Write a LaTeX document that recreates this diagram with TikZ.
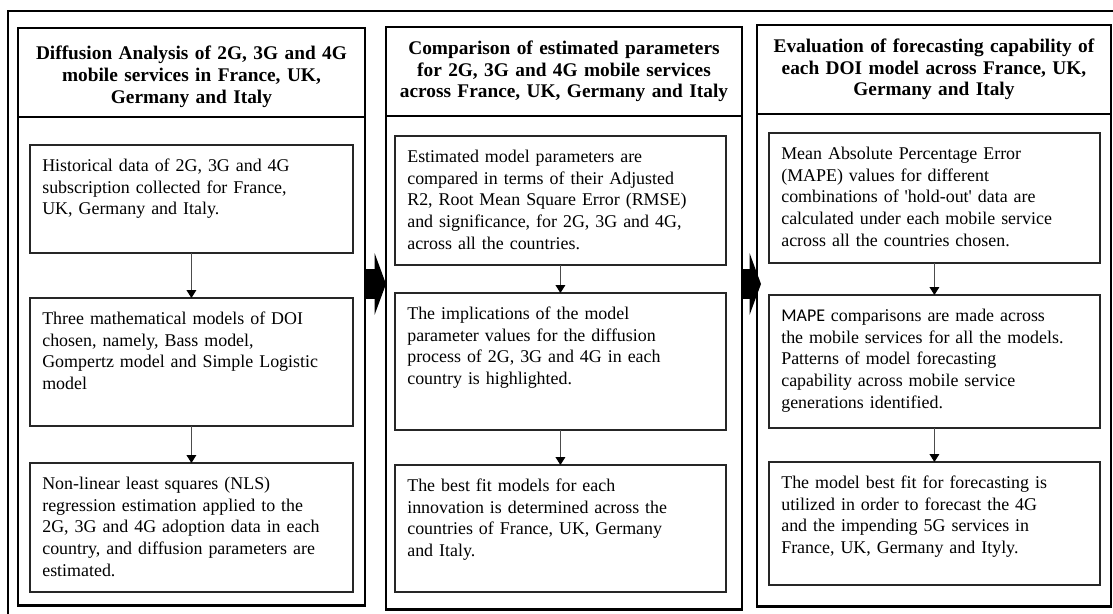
\documentclass[tikz,border=0pt]{standalone}
\usepackage{fontspec}
\setmainfont{Liberation Serif}
\newfontfamily\mapefont{Carlito}
\usepackage{tikz}
\usetikzlibrary{arrows.meta, positioning, calc}

\begin{document}
\begin{tikzpicture}[
    x=0.02cm, y=-0.02cm,
    col box/.style={draw, line width=1.6pt, anchor=north west, outer sep=0pt, inner sep=0pt},
    col head/.style={draw, line width=1.6pt, anchor=north west, outer sep=0pt, inner sep=0pt, align=center, font=\fontsize{11}{12.4}\selectfont\bfseries},
    stage box/.style={draw=black!85, line width=0.8pt, anchor=north west, outer sep=0pt, inner xsep=7pt, inner ysep=5pt, align=left, text height=10pt, font=\fontsize{10.2}{12.4}\selectfont},
    stage edge/.style={draw=black!70, line width=0.6pt, -{Triangle[length=4.5pt, width=5.5pt, color=black]}},
    big arrow/.style={line width=0.6cm, -{Triangle[length=6.5pt, width=35pt]}}
]
    \useasboundingbox (0,0) rectangle (1113,614);

    % Outer frame
    \draw[line width=0.8pt] (8,11) rectangle (1130,630);

    % Column 1
    \node[col box, minimum width=6.94cm, minimum height=11.56cm] (col1) at (18,28) {};
    \node[col head, minimum width=6.94cm, minimum height=1.78cm, text width=6.8cm, text height=12.5pt] (head1) at (18,28)
        {Diffusion Analysis of 2G, 3G and 4G\\ mobile services in France, UK,\\ Germany and Italy};
    \node[stage box, text width=5.966cm, text depth=1.457cm] (a1) at (30,145)
        {Historical data of 2G, 3G and 4G\\ subscription collected for France,\\ UK, Germany and Italy.};
    \node[stage box, text width=5.966cm, text depth=1.857cm] (b1) at (30,298)
        {Three mathematical models of DOI\\ chosen, namely, Bass model,\\ Gompertz model and Simple Logistic\\ model};
    \node[stage box, text width=5.966cm, text depth=1.877cm] (c1) at (30,463)
        {Non-linear least squares (NLS)\\ regression estimation applied to the\\ 2G, 3G and 4G adoption data in each\\ country, and diffusion parameters are\\ estimated.};

    % Column 2
    \node[col box, minimum width=7.12cm, minimum height=11.66cm] (col2) at (386,27) {};
    \node[col head, minimum width=7.12cm, minimum height=1.78cm, text width=7cm] (head2) at (386,27)
        {Comparison of estimated parameters\\ for 2G, 3G and 4G mobile services\\ across France, UK, Germany and Italy};
    \node[stage box, text width=6.126cm, text depth=1.877cm] (a2) at (395,136)
        {Estimated model parameters are\\ compared in terms of their Adjusted\\ R2, Root Mean Square Error (RMSE)\\ and significance, for 2G, 3G and 4G,\\ across all the countries.};
    \node[stage box, text width=6.126cm, text depth=2.037cm] (b2) at (395,293)
        {The implications of the model\\ parameter values for the diffusion\\ process of 2G, 3G and 4G in each\\ country is highlighted.};
    \node[stage box, text width=6.126cm, text depth=1.837cm] (c2) at (395,465)
        {The best fit models for each\\ innovation is determined across the\\ countries of France, UK, Germany\\ and Italy.};

    % Column 3
    \node[col box, minimum width=7.08cm, minimum height=11.64cm] (col3) at (757,25) {};
    \node[col head, minimum width=7.08cm, minimum height=1.78cm, text width=7cm] (head3) at (757,25)
        {Evaluation of forecasting capability of\\ each DOI model across France, UK,\\ Germany and Italy};
    \node[stage box, text width=6.126cm, text depth=1.897cm] (a3) at (769,133)
        {Mean Absolute Percentage Error\\ (MAPE) values for different\\ combinations of \textquotesingle hold-out\textquotesingle\ data are\\ calculated under each mobile service\\ across all the countries chosen.};
    \node[stage box, text width=6.126cm, text depth=1.957cm] (b3) at (769,295)
        {{\mapefont MAPE} comparisons are made across\\ the mobile services for all the models.\\ Patterns of model forecasting\\ capability across mobile service\\ generations identified.};
    \node[stage box, text width=6.126cm, text depth=1.757cm] (c3) at (769,462)
        {The model best fit for forecasting is\\ utilized in order to forecast the 4G\\ and the impending 5G services in\\ France, UK, Germany and Ityly.};

    % Steps inside the columns
    \draw[stage edge] (a1) -- (b1);
    \draw[stage edge] (b1) -- (c1);
    \draw[stage edge] (a2) -- (b2);
    \draw[stage edge] (b2) -- (c2);
    \draw[stage edge] (a3) -- (b3);
    \draw[stage edge] (b3) -- (c3);

    % Arrows between the columns
    \coordinate (mid) at (0,284);
    \draw[big arrow] (col1.east |- mid) -- (col2.west |- mid);
    \draw[big arrow] (col2.east |- mid) -- ([xshift=0.08cm]col3.west |- mid);
\end{tikzpicture}
\end{document}
